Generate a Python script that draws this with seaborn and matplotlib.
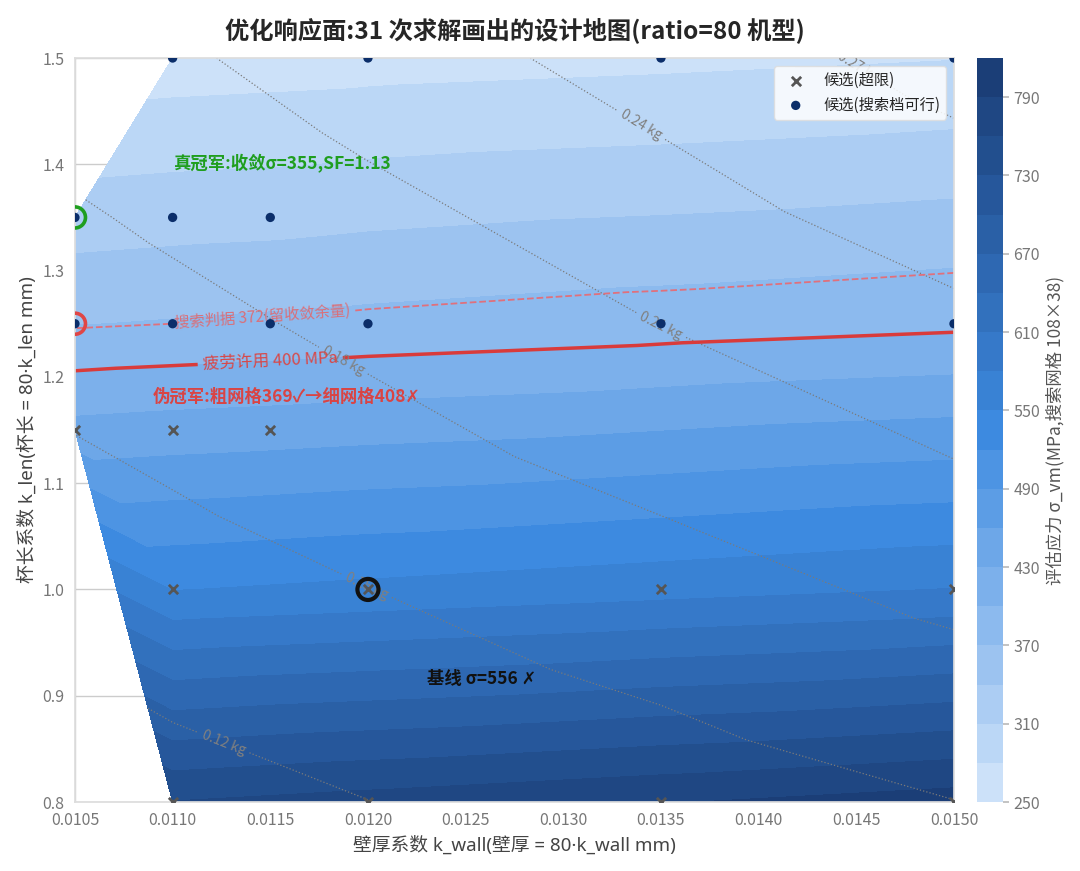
import numpy as np
import pandas as pd
import matplotlib
matplotlib.use("Agg")
import matplotlib.pyplot as plt
import matplotlib.tri as mtri
import seaborn as sns

# candidate designs (coarse-mesh solves)
k_wall = [0.0110, 0.0120, 0.0135, 0.0150,
          0.0105, 0.0110, 0.0115,
          0.0105, 0.0110, 0.0115, 0.0120, 0.0135, 0.0150,
          0.0105, 0.0110, 0.0115,
          0.0110, 0.0120, 0.0135, 0.0150,
          0.0110, 0.0120, 0.0135, 0.0150]
k_len = [1.50, 1.50, 1.50, 1.50,
         1.35, 1.35, 1.35,
         1.25, 1.25, 1.25, 1.25, 1.25, 1.25,
         1.15, 1.15, 1.15,
         1.00, 1.00, 1.00, 1.00,
         0.80, 0.80, 0.80, 0.80]
sigma = [264, 268, 273, 279,
         325, 328, 330,
         369, 372, 375, 378, 386, 394,
         439, 443, 446,
         549, 557, 569, 581,
         761, 772, 788, 805]
mass = [0.2058, 0.2245, 0.2525, 0.2806,
        0.1768, 0.1852, 0.1936,
        0.1637, 0.1715, 0.1793, 0.1871, 0.2104, 0.2338,
        0.1506, 0.1577, 0.1649,
        0.1372, 0.1496, 0.1683, 0.1871,
        0.1097, 0.1197, 0.1347, 0.1496]

sigma_allow = 400
sigma_search = 372
sigma_levels = np.arange(250, 821, 30)
mass_levels = [0.12, 0.15, 0.18, 0.21, 0.24, 0.27]

df = pd.DataFrame({"k_wall": k_wall, "k_len": k_len, "sigma": sigma, "mass": mass})
df["feasible"] = df["sigma"] <= sigma_allow

sns.set_theme(style="whitegrid")
plt.rcParams['font.family'] = ['Noto Sans CJK SC', 'DejaVu Sans']
plt.rcParams['axes.unicode_minus'] = False

fig = plt.figure(figsize=(10.8, 8.71), dpi=100)
ax = fig.add_axes([0.0694, 0.0792, 0.8139, 0.8542])
cax = fig.add_axes([0.9046, 0.0792, 0.024, 0.8542])

# triangulate in axis-normalised space so triangles are not squashed
xn = (df["k_wall"] - 0.0105) / 0.0045
yn = (df["k_len"] - 0.8) / 0.7
tri_n = mtri.Triangulation(xn, yn)
tri = mtri.Triangulation(df["k_wall"], df["k_len"], tri_n.triangles)

cmap = sns.blend_palette(["#d3e5fa", "#3d8ae0", "#193a72"], as_cmap=True)
cf = ax.tricontourf(tri, df["sigma"], levels=sigma_levels, cmap=cmap)

# mass iso-lines
ms = ax.tricontour(tri, df["mass"], levels=mass_levels, colors="#7a7a7a",
                   linestyles=":", linewidths=0.9)
mlabels = ax.clabel(ms, fmt=lambda v: f"{v:.2f} kg", fontsize=10, inline=True,
                    manual=[(0.01125, 0.851), (0.01198, 0.999), (0.01187, 1.214),
                            (0.01349, 1.244), (0.01338, 1.431), (0.01453, 1.497)])
for t in mlabels:
    t.set_color("#808080")
    t.set_clip_on(True)

# search criterion and fatigue limit
c372 = ax.tricontour(tri, df["sigma"], levels=[sigma_search], colors="#e0707c",
                     linestyles="--", linewidths=1.3)
for t in ax.clabel(c372, fmt={sigma_search: "搜索判据 372(留收敛余量)"}, fontsize=11,
                   inline=True, manual=[(0.01146, 1.255)]):
    t.set_color("#d9707a")
c400 = ax.tricontour(tri, df["sigma"], levels=[sigma_allow], colors="#d93b3b",
                     linewidths=2.5)
for t in ax.clabel(c400, fmt={sigma_allow: "疲劳许用 400 MPa"}, fontsize=12,
                   inline=True, manual=[(0.0115, 1.214)]):
    t.set_color("#d84848")

# candidates
sns.scatterplot(data=df[~df["feasible"]], x="k_wall", y="k_len", marker="x",
                color="#555555", s=45, linewidth=2, label="候选(超限)", ax=ax, zorder=5)
sns.scatterplot(data=df[df["feasible"]], x="k_wall", y="k_len", marker="o",
                color="#0b2e6a", s=45, edgecolor="none", label="候选(搜索档可行)",
                ax=ax, zorder=5)

# highlighted designs
ax.scatter([0.0105], [1.35], s=230, facecolors="none", edgecolors="#1f9e1f",
           linewidths=2.6, zorder=6)
ax.scatter([0.0105], [1.25], s=230, facecolors="none", edgecolors="#e04646",
           linewidths=2.6, zorder=6)
ax.scatter([0.0120], [1.00], s=230, facecolors="none", edgecolors="#111111",
           linewidths=3, zorder=6)

ax.text(0.0110, 1.401, "真冠军:收敛σ=355,SF=1.13", color="#1f9e1f", fontsize=12.5,
        fontweight="bold", va="center", zorder=7)
ax.text(0.0109, 1.181, "伪冠军:粗网格369✓→细网格408✗", color="#d94444", fontsize=12.5,
        fontweight="bold", va="center", zorder=7)
ax.text(0.0123, 0.916, "基线 σ=556 ✗", color="#111111", fontsize=12.5,
        fontweight="bold", va="center", zorder=7)

ax.set_xlim(0.0105, 0.0150)
ax.set_ylim(0.8, 1.5)
xt = np.arange(0.0105, 0.01501, 0.0005)
yt = np.arange(0.8, 1.501, 0.1)
ax.set_xticks(xt)
ax.set_xticklabels([f"{v:.4f}" for v in xt])
ax.set_yticks(yt)
ax.set_yticklabels([f"{v:.1f}" for v in yt])
ax.tick_params(labelsize=11.5, labelcolor="#777777", length=4, color="#bbbbbb")
lab_font = ['Noto Sans', 'Noto Sans CJK SC']
ax.set_xlabel("壁厚系数 k_wall(壁厚 = 80·k_wall mm)", fontsize=13.5, color="#444444",
              family=lab_font)
ax.set_ylabel("杯长系数 k_len(杯长 = 80·k_len mm)", fontsize=13.5, color="#444444",
              family=lab_font)
ax.set_title("优化响应面:31 次求解画出的设计地图(ratio=80 机型)", fontsize=17.5,
             fontweight="bold", pad=14)
for s in ax.spines.values():
    s.set_color("#dddddd")

ax.legend(loc="upper right", fontsize=11, frameon=True, framealpha=0.85,
          facecolor="white", edgecolor="#dddddd")

cb = fig.colorbar(cf, cax=cax, ticks=sigma_levels[::2])
cb.outline.set_visible(False)
cb.ax.tick_params(labelsize=11.5, labelcolor="#777777", length=4, color="#bbbbbb")
cb.set_label("评估应力 σ_vm(MPa,搜索网格 108×38)", fontsize=12.5, color="#555555")

fig.savefig("out.png", dpi=100)
